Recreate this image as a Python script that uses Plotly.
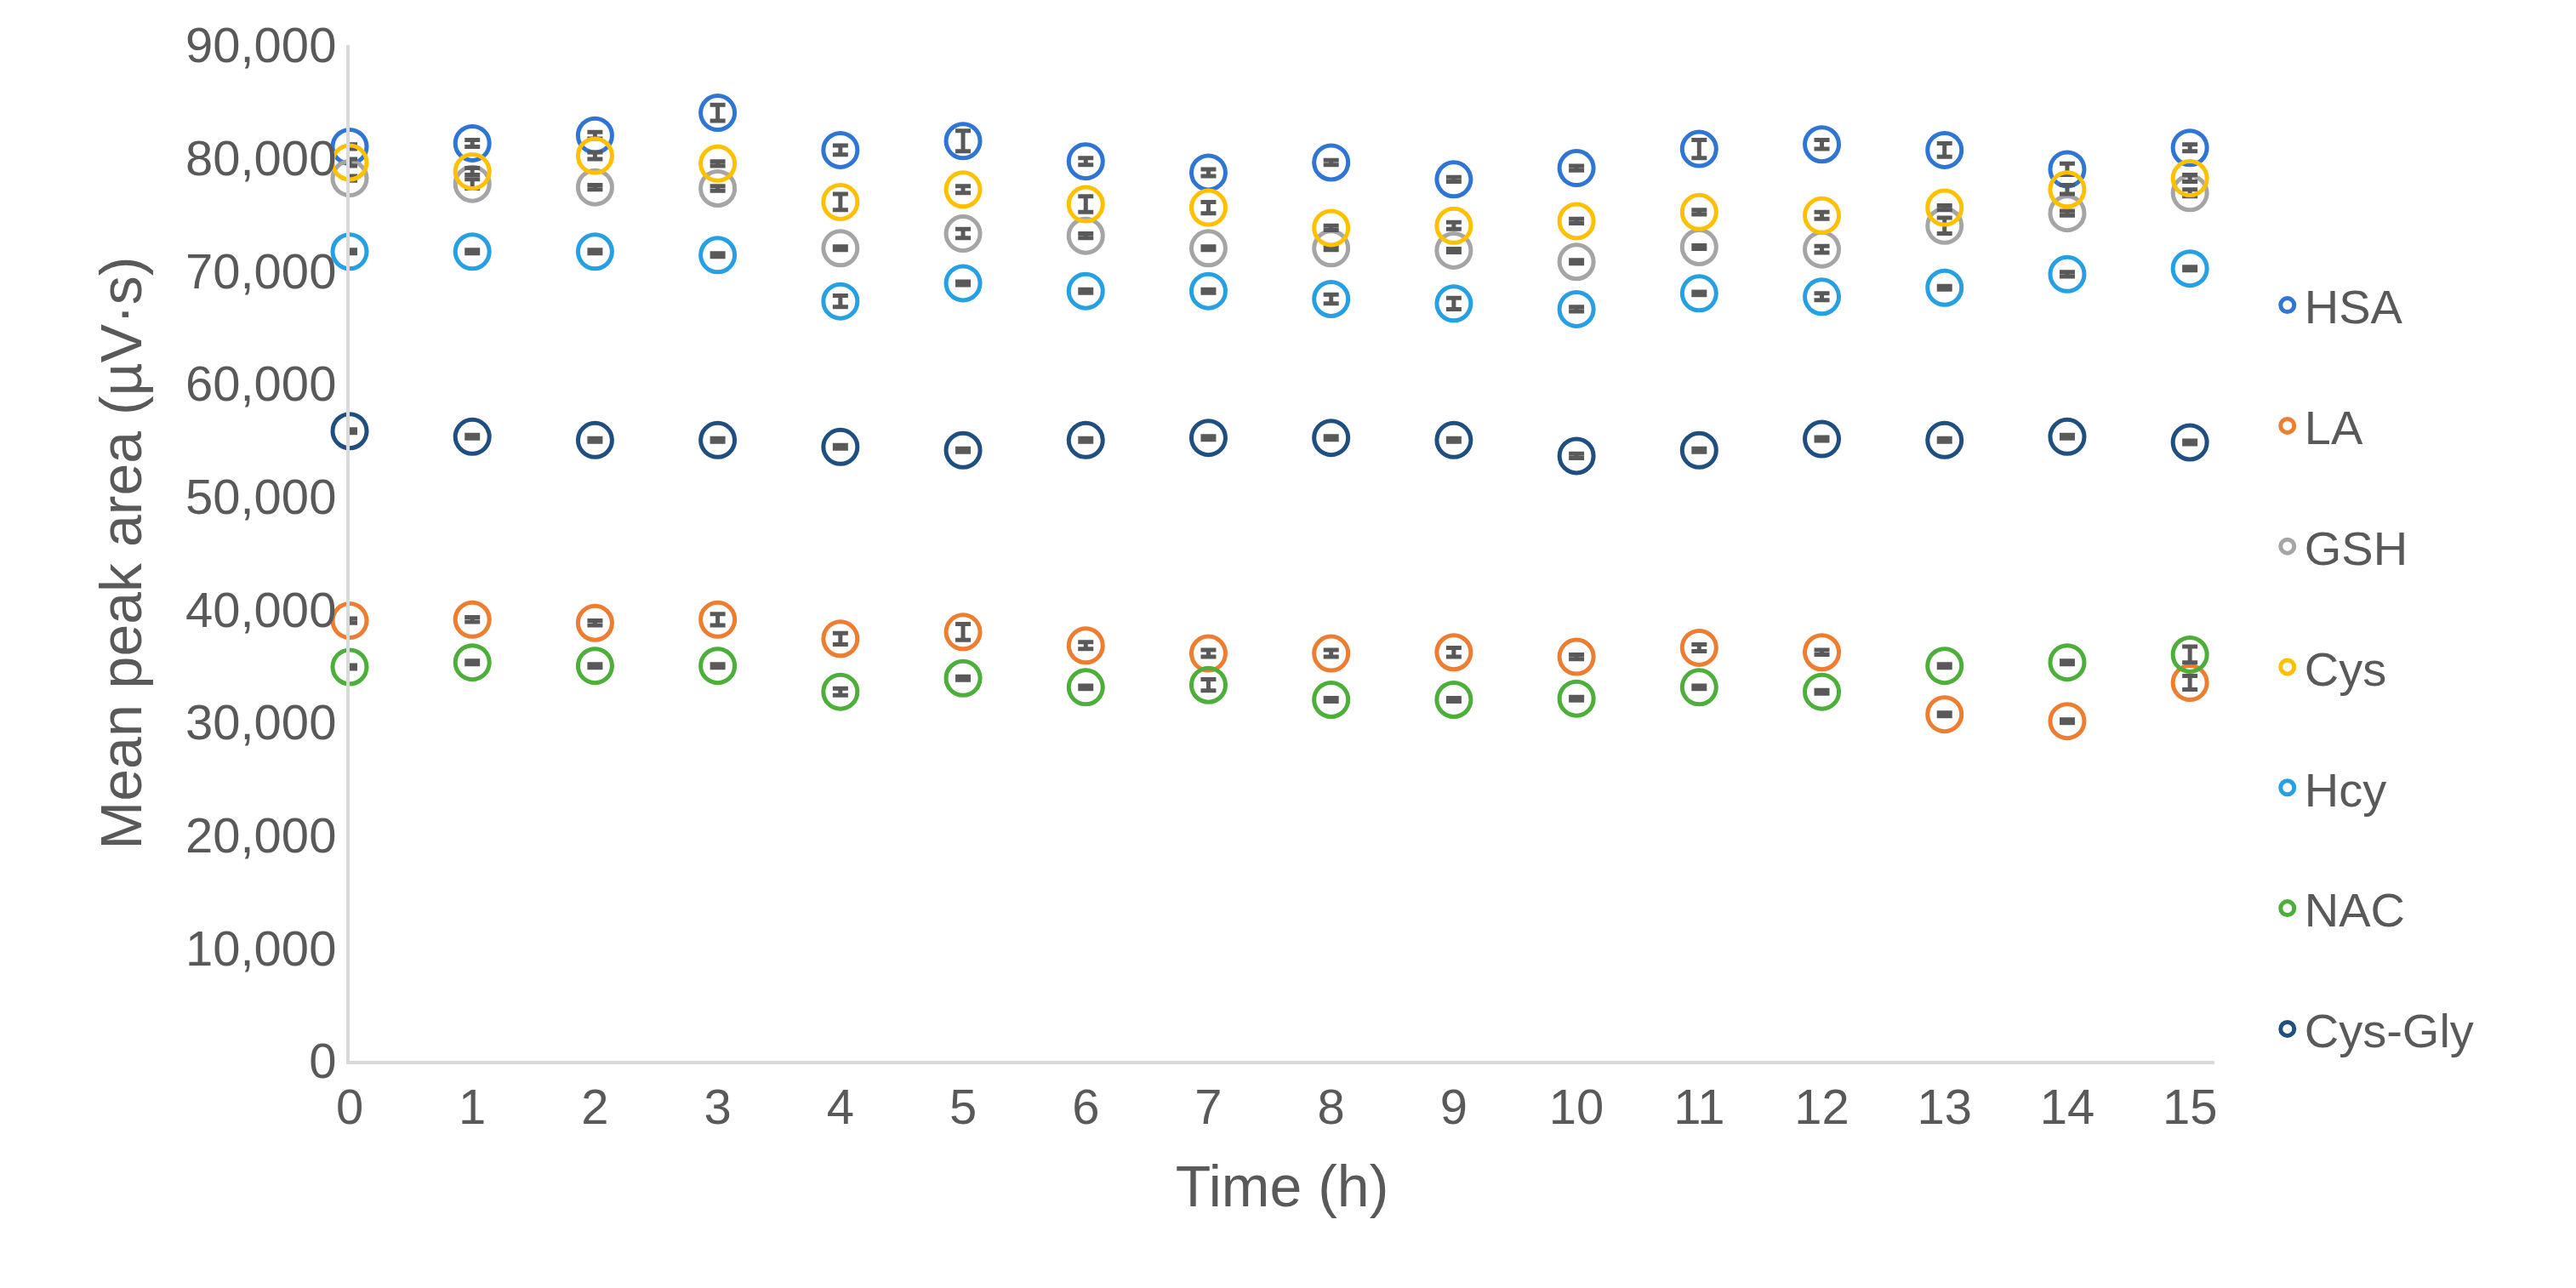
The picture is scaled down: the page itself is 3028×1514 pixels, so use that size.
import plotly.graph_objects as go

hours = list(range(16))
series_names = ["HSA", "LA", "GSH", "Cys", "Hcy", "NAC", "Cys-Gly"]
colors = ["#2F75D3", "#ED7D31", "#A5A5A5", "#FFC000", "#27A0E3", "#4CAF39", "#1F4E80"]

hsa = [81000, 81300, 82000, 84000, 80700, 81500, 79700, 78700, 79600, 78100, 79100, 80800, 81200, 80700, 79000, 80900]
la = [39000, 39100, 38800, 39100, 37400, 38000, 36800, 36100, 36100, 36200, 35800, 36600, 36200, 30700, 30100, 33500]
gsh = [78200, 77700, 77400, 77300, 72000, 73300, 73100, 72000, 72000, 71800, 70800, 72100, 71900, 74000, 75100, 76900]
cys = [79600, 78800, 80200, 79500, 76100, 77200, 75900, 75600, 73800, 74000, 74400, 75200, 74900, 75600, 77200, 78200]
hcy = [71700, 71700, 71700, 71400, 67300, 68900, 68200, 68200, 67500, 67100, 66600, 68000, 67700, 68500, 69700, 70200]
nac = [34900, 35300, 35000, 35000, 32700, 33900, 33100, 33300, 32000, 32000, 32100, 33100, 32700, 35000, 35300, 36000]
cysgly = [55800, 55300, 55000, 55000, 54400, 54100, 55000, 55200, 55200, 55000, 53600, 54100, 55100, 55000, 55300, 54800]

err_hsa = [200, 300, 300, 700, 400, 900, 300, 300, 200, 200, 200, 800, 400, 600, 500, 300]
err_la = [200, 200, 200, 500, 500, 700, 300, 300, 300, 400, 200, 300, 200, 150, 150, 600]
err_gsh = [200, 400, 200, 200, 150, 400, 200, 150, 150, 150, 150, 150, 300, 700, 200, 300]
err_cys = [300, 300, 300, 200, 700, 300, 700, 500, 200, 300, 200, 200, 300, 200, 400, 300]
err_hcy = [150, 150, 150, 150, 500, 150, 150, 150, 400, 500, 200, 150, 300, 150, 200, 150]
err_nac = [150, 150, 150, 150, 300, 150, 150, 500, 150, 150, 150, 150, 150, 150, 150, 700]
err_cysgly = [150, 150, 150, 150, 150, 150, 150, 150, 150, 150, 200, 150, 150, 150, 150, 150]

values = [hsa, la, gsh, cys, hcy, nac, cysgly]
errors = [err_hsa, err_la, err_gsh, err_cys, err_hcy, err_nac, err_cysgly]

fig = go.Figure()
for name, col, v, e in zip(series_names, colors, values, errors):
    fig.add_trace(go.Scatter(
        x=hours, y=v, mode="markers", name=name, legendgroup=name, cliponaxis=False,
        marker=dict(symbol="circle-open", size=40, color=col, line=dict(width=5, color=col)),
        error_y=dict(type="data", array=e, visible=True, color="#595959", thickness=5, width=9),
    ))

tick_font = dict(family="Liberation Sans, Open Sans, sans-serif", size=58, color="#595959")
fig.update_layout(
    width=3028, height=1514,
    paper_bgcolor="white", plot_bgcolor="white",
    margin=dict(l=403, r=433, t=43, b=275),
    font=tick_font,
    xaxis=dict(range=[0, 15.2], tickmode="array", tickvals=hours, ticktext=[str(h) for h in hours],
               showgrid=False, zeroline=False, showline=True, linecolor="#D9D9D9", linewidth=4,
               ticks="", title=dict(text="Time (h)", font=dict(size=68, color="#595959"), standoff=40)),
    yaxis=dict(range=[0, 90000], dtick=10000, tickformat=",", showgrid=False, zeroline=False,
               showline=True, linecolor="#D9D9D9", linewidth=4, ticks="",
               title=dict(text="Mean peak area (µV·s)", font=dict(size=68, color="#595959"), standoff=30)),
    legend=dict(x=1.03, y=0.78, xanchor="left", yanchor="top", font=dict(size=56, color="#595959"),
                tracegroupgap=66),
)
fig.write_html("out.html")
